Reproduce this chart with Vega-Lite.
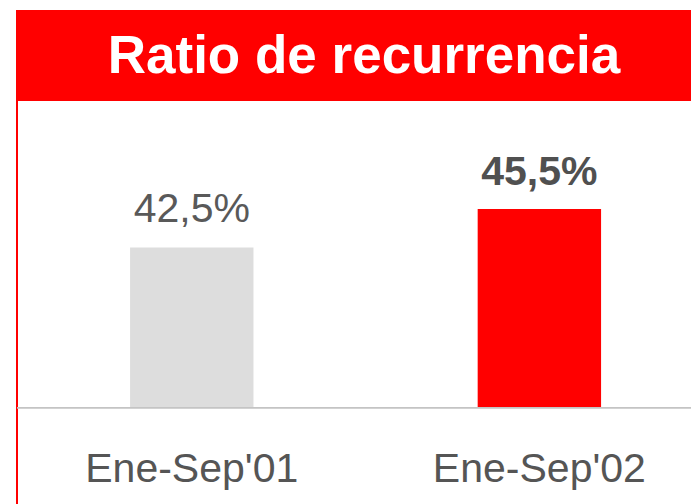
{
  "$schema": "https://vega.github.io/schema/vega-lite/v6.json",
  "autosize": {"type": "none"},
  "padding": {"left": 17, "top": 10, "right": 0, "bottom": 0},
  "width": 674,
  "height": 494,
  "background": "white",
  "config": {"view": {"stroke": null}, "font": "Liberation Sans"},
  "datasets": {
    "bars": [
      {"periodo": "Ene-Sep'01", "ratio": 42.5, "etiqueta": "42,5%"},
      {"periodo": "Ene-Sep'02", "ratio": 45.5, "etiqueta": "45,5%"}
    ],
    "titulo": [{"texto": "Ratio de recurrencia"}]
  },
  "data": {"name": "bars"},
  "layer": [
    {
      "data": {"name": "titulo"},
      "mark": {"type": "rect", "color": "#ff0000"},
      "encoding": {
        "y": {"datum": 61, "type": "quantitative", "scale": {"domain": [22.5, 61], "zero": false, "nice": false}},
        "y2": {"datum": 53.9}
      }
    },
    {
      "data": {"name": "titulo"},
      "mark": {"type": "text", "color": "white", "fontSize": 53, "fontWeight": "bold", "align": "center", "baseline": "alphabetic", "dx": 10},
      "encoding": {
        "y": {"datum": 56.1, "type": "quantitative"},
        "text": {"field": "texto"}
      }
    },
    {
      "mark": {"type": "bar", "orient": "vertical"},
      "encoding": {
        "x": {"field": "periodo", "type": "nominal", "axis": null, "sort": null,
              "scale": {"paddingInner": 0.645, "paddingOuter": 0.292, "align": 0.557}},
        "y": {"field": "ratio", "type": "quantitative",
              "scale": {"domain": [22.5, 61], "zero": false, "nice": false},
              "axis": {"title": null, "labels": false, "ticks": false, "grid": false, "domainColor": "#ff0000", "domainWidth": 2, "translate": 0}},
        "y2": {"datum": 30},
        "color": {"field": "periodo", "type": "nominal", "legend": null,
                  "scale": {"domain": ["Ene-Sep'01", "Ene-Sep'02"], "range": ["#dddddd", "#ff0000"]}}
      }
    },
    {
      "mark": {"type": "rule", "color": "#c4c4c4", "strokeWidth": 1.5},
      "encoding": {"y": {"datum": 30, "type": "quantitative"}}
    },
    {
      "transform": [{"filter": "datum.periodo === \"Ene-Sep'01\""}],
      "mark": {"type": "text", "fontSize": 41, "color": "#595959", "baseline": "alphabetic", "dy": -25},
      "encoding": {
        "x": {"field": "periodo", "type": "nominal"},
        "y": {"field": "ratio", "type": "quantitative"},
        "text": {"field": "etiqueta"}
      }
    },
    {
      "transform": [{"filter": "datum.periodo === \"Ene-Sep'02\""}],
      "mark": {"type": "text", "fontSize": 41, "fontWeight": "bold", "color": "#505050", "baseline": "alphabetic", "dy": -24},
      "encoding": {
        "x": {"field": "periodo", "type": "nominal"},
        "y": {"field": "ratio", "type": "quantitative"},
        "text": {"field": "etiqueta"}
      }
    },
    {
      "mark": {"type": "text", "fontSize": 41, "color": "#555555", "baseline": "alphabetic"},
      "encoding": {
        "x": {"field": "periodo", "type": "nominal"},
        "y": {"datum": 24.2, "type": "quantitative"},
        "text": {"field": "periodo"}
      }
    }
  ]
}
